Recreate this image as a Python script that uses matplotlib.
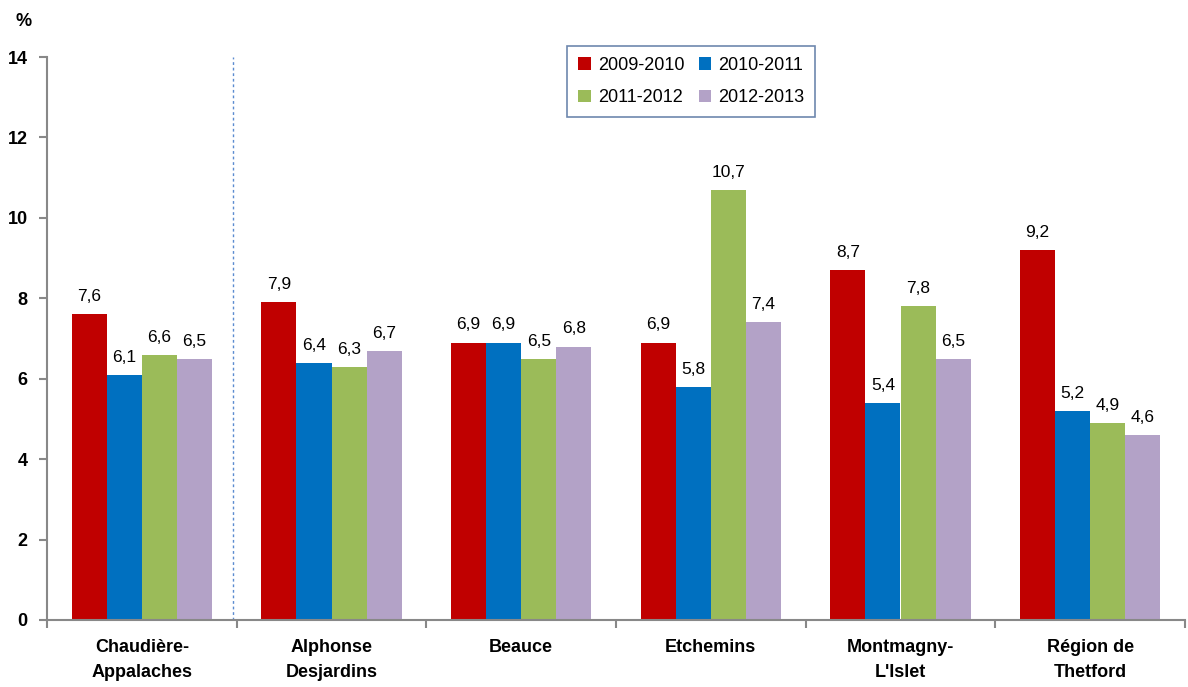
import matplotlib
matplotlib.use("Agg")
import matplotlib.pyplot as plt
import numpy as np

categories = ["Chaudière-\nAppalaches", "Alphonse\nDesjardins", "Beauce", "Etchemins", "Montmagny-\nL'Islet", "Région de\nThetford"]
series_names = ["2009-2010", "2010-2011", "2011-2012", "2012-2013"]
v2009 = [7.6, 7.9, 6.9, 6.9, 8.7, 9.2]
v2010 = [6.1, 6.4, 6.9, 5.8, 5.4, 5.2]
v2011 = [6.6, 6.3, 6.5, 10.7, 7.8, 4.9]
v2012 = [6.5, 6.7, 6.8, 7.4, 6.5, 4.6]
colors = ["#C00000", "#0070C0", "#9BBB59", "#B3A2C7"]

plt.rcParams['font.family'] = ['Liberation Sans', 'DejaVu Sans']
fig = plt.figure(figsize=(11.88, 6.87), dpi=100)
ax = fig.add_axes([47/1188, 67/687, (1185-47)/1188, (620-57)/687])

x = np.arange(len(categories))
w = 0.185
data = [v2009, v2010, v2011, v2012]
handles = []
for i, (vals, c, name) in enumerate(zip(data, colors, series_names)):
    pos = x + (i - 1.5) * w
    bars = ax.bar(pos, vals, width=w, color=c, label=name, zorder=2)
    handles.append(bars)
    for xp, v in zip(pos, vals):
        ax.text(xp, v + 0.25, f"{v:.1f}".replace(".", ","), ha="center", va="bottom", fontsize=12.5)

ax.set_xlim(-0.5, len(categories) - 0.5)
ax.set_ylim(0, 14)
ax.set_yticks(range(0, 15, 2))
ax.set_yticklabels([str(t) for t in range(0, 15, 2)], fontsize=13, fontweight="bold")
ax.set_xticks(x)
ax.set_xticklabels(categories, fontsize=13, fontweight="bold", linespacing=1.55)
ax.tick_params(axis="x", length=0, pad=14)
ax.set_xticks(np.arange(-0.5, len(categories)), minor=True)
ax.tick_params(axis="x", which="minor", length=6, color="#888888", width=1.5)
ax.tick_params(axis="y", length=6, color="#888888", width=1.5, pad=8)
for s in ["top", "right"]:
    ax.spines[s].set_visible(False)
for s in ["left", "bottom"]:
    ax.spines[s].set_color("#888888")
    ax.spines[s].set_linewidth(1.5)

ax.axvline(0.5 - 0.02, color="#5B8BD0", linestyle=(0, (2, 2)), linewidth=1, zorder=1)

fig.text(15/1188, 1 - 22/687, "%", fontsize=13, fontweight="bold", ha="left", va="center")

order = [0, 2, 1, 3]
leg = ax.legend([handles[k] for k in order], [series_names[k] for k in order],
                ncol=2, loc="upper left", bbox_to_anchor=(511/1138, 1 + 20/563),
                fontsize=13, frameon=True, fancybox=False, handlelength=0.7, handleheight=0.7,
                columnspacing=0.8, handletextpad=0.4, borderpad=0.6, labelspacing=0.85)
leg.get_frame().set_edgecolor("#4A6A9A")
leg.get_frame().set_linewidth(1.2)

fig.savefig("out.png", dpi=100)
